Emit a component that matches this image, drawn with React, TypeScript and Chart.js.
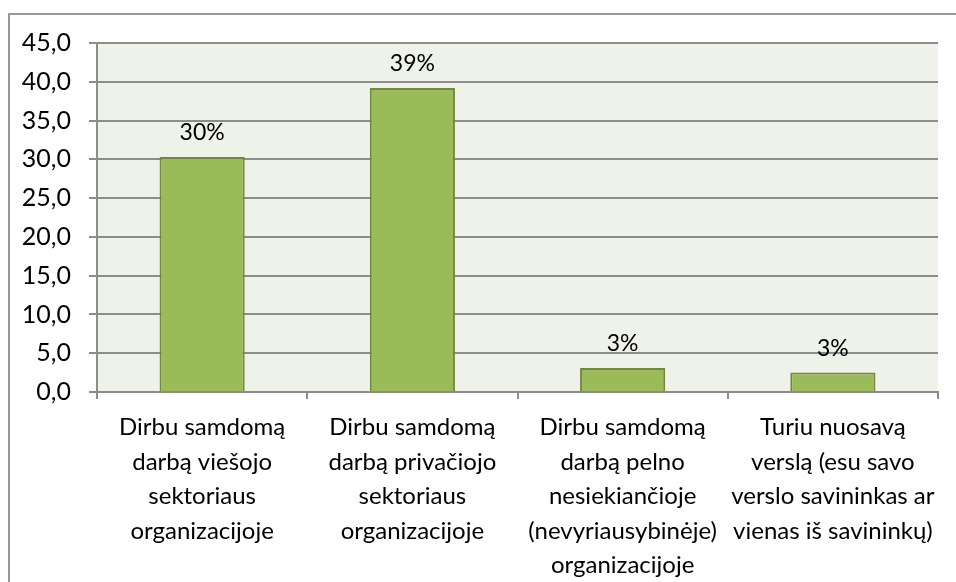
import React, { useEffect, useRef } from "react";
import { Chart, registerables } from "chart.js";

Chart.register(...registerables);

const categories: string[][] = [
  ["Dirbu samdomą", "darbą viešojo", "sektoriaus", "organizacijoje"],
  ["Dirbu samdomą", "darbą privačiojo", "sektoriaus", "organizacijoje"],
  ["Dirbu samdomą", "darbą pelno", "nesiekiančioje", "(nevyriausybinėje)", "organizacijoje"],
  ["Turiu nuosavą", "verslą (esu savo", "verslo savininkas ar", "vienas iš savininkų)"],
];
const values: number[] = [30.3, 39.2, 3.1, 2.5];
const valueLabels: string[] = ["30%", "39%", "3%", "3%"];
const yMin = 0;
const yMax = 45;
const yStep = 5;

const FONT = "Lato, 'Open Sans', sans-serif";

export default function App() {
  const ref = useRef<HTMLCanvasElement | null>(null);
  useEffect(() => {
    if (!ref.current) return;
    const frame = {
      id: "frame",
      beforeDraw(chart: any) {
        const { ctx, chartArea } = chart;
        ctx.save();
        ctx.fillStyle = "#ffffff";
        ctx.fillRect(0, 0, chart.width, chart.height);
        ctx.strokeStyle = "#999999";
        ctx.lineWidth = 2;
        ctx.beginPath();
        ctx.moveTo(9, chart.height + 5);
        ctx.lineTo(9, 14);
        ctx.lineTo(chart.width + 5, 14);
        ctx.stroke();
        ctx.fillStyle = "#eff2e9";
        ctx.fillRect(chartArea.left, chartArea.top, chartArea.right - chartArea.left, chartArea.bottom - chartArea.top);
        ctx.restore();
      },
    };
    const dataLabels = {
      id: "dataLabels",
      afterDatasetsDraw(chart: any) {
        const { ctx } = chart;
        const meta = chart.getDatasetMeta(0);
        ctx.save();
        ctx.font = `23px ${FONT}`;
        ctx.fillStyle = "#000000";
        ctx.textAlign = "center";
        ctx.textBaseline = "middle";
        meta.data.forEach((bar: any, i: number) => {
          ctx.fillText(valueLabels[i], bar.x, bar.y - 24);
        });
        ctx.restore();
      },
    };
    const chart = new Chart(ref.current, {
      type: "bar",
      data: {
        labels: categories,
        datasets: [
          {
            data: values,
            backgroundColor: "#9bbb59",
            borderColor: "#71893f",
            borderWidth: 2,
            categoryPercentage: 1,
            barPercentage: 0.405,
          },
        ],
      },
      options: {
        responsive: false,
        animation: false,
        layout: { padding: { top: 43, right: 18, left: 0, bottom: 0 } },
        plugins: { legend: { display: false }, tooltip: { enabled: false } },
        scales: {
          x: {
            offset: true,
            grid: { display: true, drawOnChartArea: false, drawTicks: true, tickLength: 7, color: "#8c8c8c", lineWidth: 2, offset: true },
            border: { display: true, color: "#8c8c8c", width: 2 },
            ticks: {
              autoSkip: false,
              maxRotation: 0,
              minRotation: 0,
              color: "#000000",
              padding: 11,
              font: { family: FONT, size: 24, lineHeight: 1.44 },
            },
            afterFit(scale: any) {
              scale.height = 190;
            },
          },
          y: {
            min: yMin,
            max: yMax,
            grid: { color: "#8c8c8c", lineWidth: 2, tickLength: 8 },
            border: { display: true, color: "#8c8c8c", width: 2 },
            ticks: {
              stepSize: yStep,
              color: "#000000",
              padding: 18,
              font: { family: FONT, size: 25 },
              callback: (v: any) => Number(v).toFixed(1).replace(".", ","),
            },
            afterFit(scale: any) {
              scale.width = 97;
            },
          },
        },
      },
      plugins: [frame, dataLabels],
    });
    return () => chart.destroy();
  }, []);
  return (
    <div style={{ position: "fixed", left: 0, top: 0, width: 956, height: 582 }}>
      <canvas ref={ref} width={956} height={582} style={{ display: "block" }} />
    </div>
  );
}
